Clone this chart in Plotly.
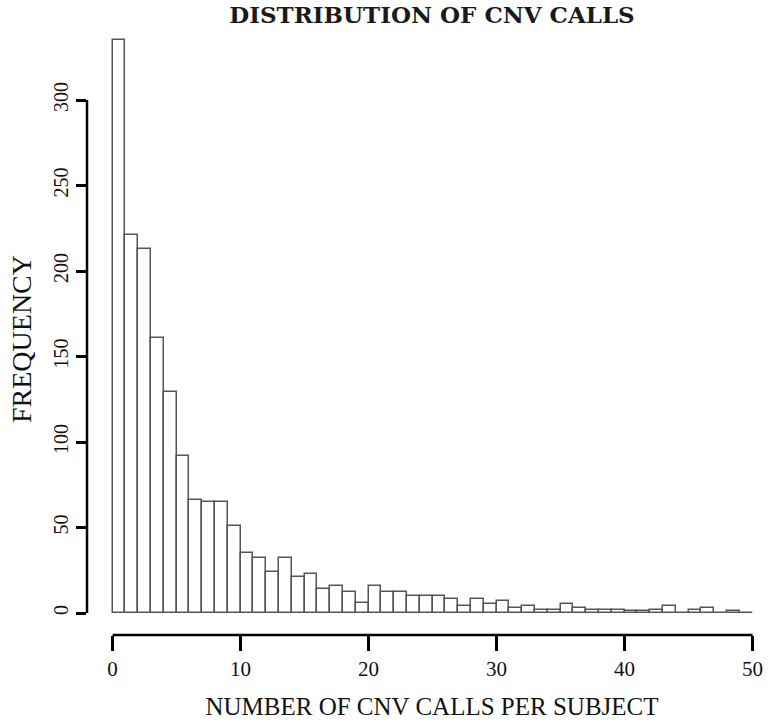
import plotly.graph_objects as go

# Histogram bins: left edge of each unit-wide bin (number of CNV calls per subject)
bin_starts = [0, 1, 2, 3, 4, 5, 6, 7, 8, 9,
              10, 11, 12, 13, 14, 15, 16, 17, 18, 19,
              20, 21, 22, 23, 24, 25, 26, 27, 28, 29,
              30, 31, 32, 33, 34, 35, 36, 37, 38, 39,
              40, 41, 42, 43, 44, 45, 46, 47, 48, 49]
frequency = [335, 221, 213, 161, 129, 92, 66, 65, 65, 51,
             35, 32, 24, 32, 21, 23, 14, 16, 12, 6,
             16, 12, 12, 10, 10, 10, 8, 4, 8, 5,
             7, 3, 4, 2, 2, 5, 3, 2, 2, 2,
             1, 1, 2, 4, 0, 2, 3, 0, 1, 0]

x_ticks = [0, 10, 20, 30, 40, 50]
y_ticks = [0, 50, 100, 150, 200, 250, 300]

title_text = "DISTRIBUTION OF CNV CALLS"
x_title = "NUMBER OF CNV CALLS PER SUBJECT"
y_title = "FREQUENCY"

serif = "Liberation Serif, Times New Roman, serif"
title_font = "DejaVu Serif, serif"

fig = go.Figure()
fig.add_trace(go.Bar(
    x=bin_starts, y=frequency, width=1, offset=0,
    marker=dict(color="white", line=dict(color="#555555", width=1.5)),
    hoverinfo="skip", showlegend=False,
))

W, H = 777, 726
plot_left, plot_top, plot_bottom = 87, 17, 635
ml, mt, mb, mr = plot_left, plot_top, H - plot_bottom, 0

fig.update_layout(
    width=W, height=H,
    margin=dict(l=ml, r=mr, t=mt, b=mb, pad=0),
    paper_bgcolor="white", plot_bgcolor="white",
    bargap=0,
    title=dict(text="<b>" + title_text + "</b>", x=0.5, xref="paper",
               y=1 - 15 / H, yref="container", yanchor="middle", xanchor="center",
               font=dict(family=title_font, size=23, color="#1a1a1a")),
    font=dict(family=serif, color="#111111"),
)

fig.update_xaxes(
    range=[-2, -2 + (W - ml - mr) / 12.8],
    tickvals=x_ticks, ticktext=[str(v) for v in x_ticks],
    ticks="outside", ticklen=15, tickwidth=2.5, tickcolor="black",
    showline=False, showgrid=False, zeroline=False,
    tickfont=dict(family=serif, size=21, color="#111111"),
    title=dict(text=x_title, font=dict(family=serif, size=25, color="#111111"), standoff=17),
    fixedrange=True,
)

ppu = 1.71
y_low = -(plot_bottom - 613) / ppu
y_high = y_low + (plot_bottom - plot_top) / ppu
fig.update_yaxes(
    range=[y_low, y_high],
    tickvals=y_ticks, ticktext=[str(v) for v in y_ticks],
    ticks="outside", ticklen=10, tickwidth=2.5, tickcolor="black",
    tickangle=-90,
    showline=False, showgrid=False, zeroline=False,
    tickfont=dict(family=serif, size=20, color="#111111"),
    fixedrange=True,
)

fig.add_annotation(
    text=y_title, textangle=-90, showarrow=False,
    xref="paper", yref="paper", x=0, xanchor="center", xshift=21 - plot_left,
    y=(plot_bottom - 339) / (plot_bottom - plot_top), yanchor="middle",
    font=dict(family=serif, size=28, color="#111111"),
)

# R-style detached axis lines spanning first to last tick
fig.add_shape(type="line", xref="x", yref="paper", x0=x_ticks[0], x1=x_ticks[-1], y0=0, y1=0,
              line=dict(color="black", width=2.5))
fig.add_shape(type="line", xref="paper", yref="y", x0=0, x1=0, y0=y_ticks[0], y1=y_ticks[-1],
              line=dict(color="black", width=2.5))

fig.write_html("out.html", config={"displayModeBar": False},
               post_script="document.body.style.margin='0';document.body.style.overflow='hidden';")
